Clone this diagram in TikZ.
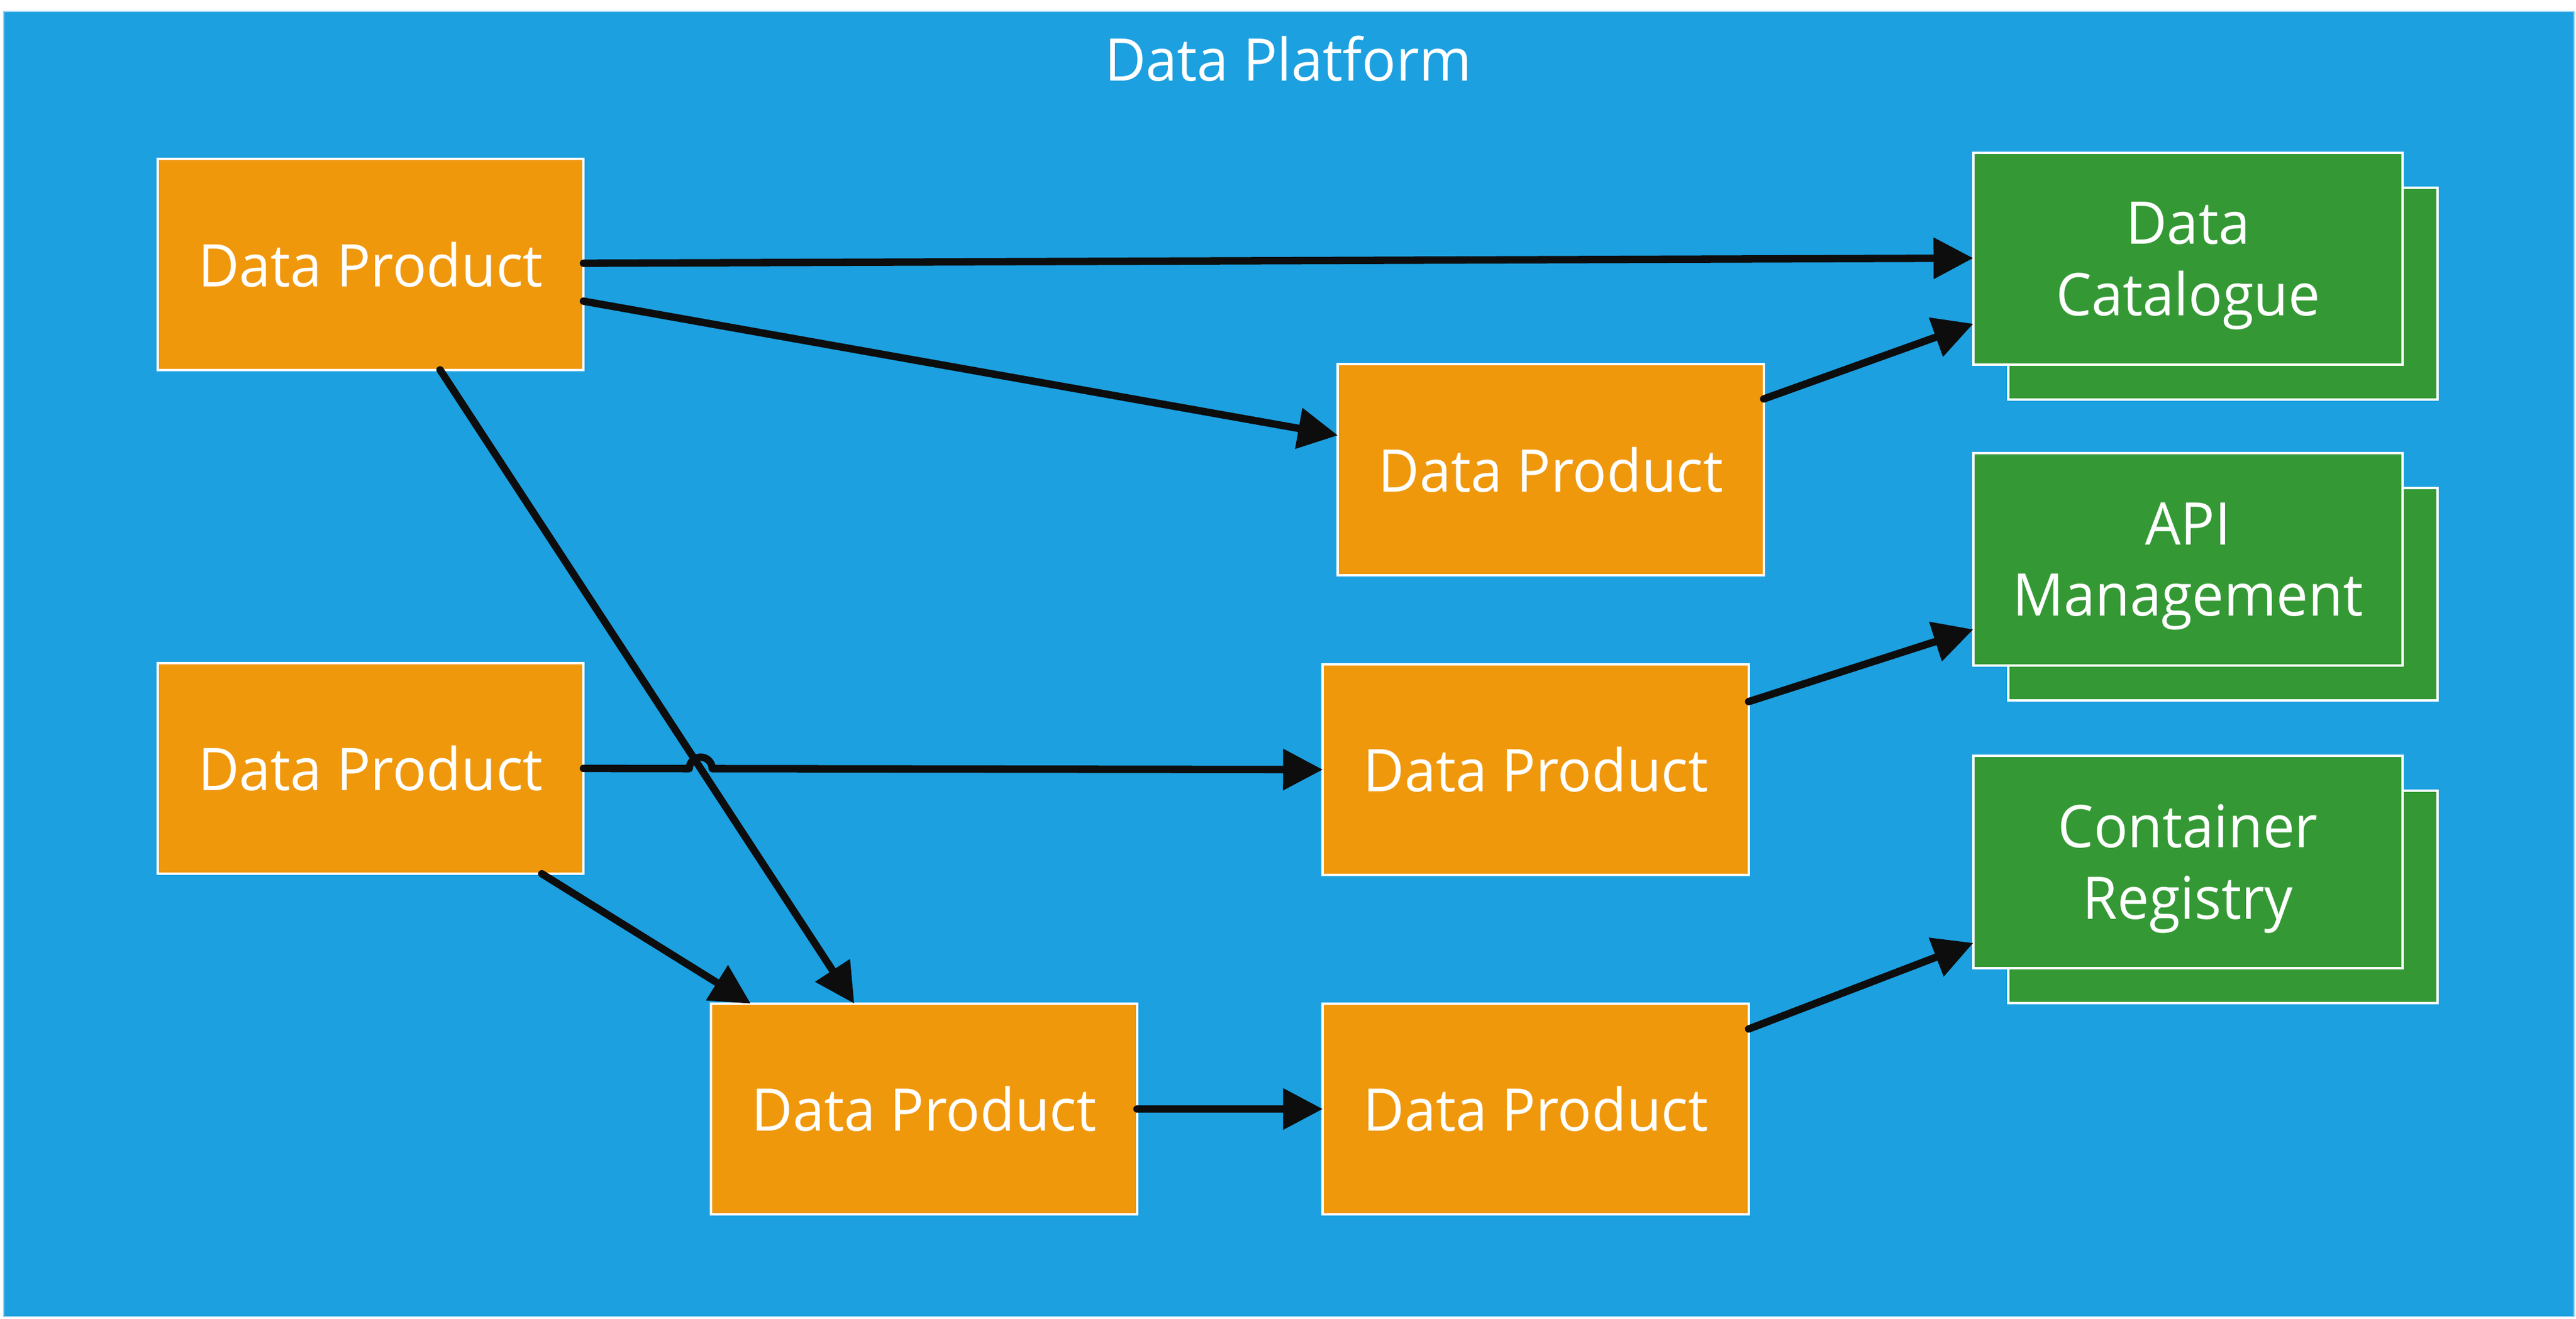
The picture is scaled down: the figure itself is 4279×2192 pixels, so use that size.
\documentclass[tikz,border=0pt]{standalone}
\usepackage{fontspec}
\setmainfont{Open Sans}[FakeStretch=0.96]
\usetikzlibrary{arrows.meta,calc,positioning}
\definecolor{platblue}{HTML}{1CA0E0}
\definecolor{platedge}{HTML}{9FD6F2}
\definecolor{prodorange}{HTML}{F0980C}
\definecolor{svcgreen}{HTML}{349934}
\definecolor{arrowblack}{HTML}{0D0D0D}
\tikzset{
  prodbox/.style={draw=white, line width=0.04cm, fill=prodorange, text=white,
    minimum width=7.07cm, minimum height=3.5cm, inner sep=0pt, outer sep=0pt,
    font=\fontsize{27.8}{33.8}\selectfont},
  svcbox/.style={draw=white, line width=0.04cm, fill=svcgreen, text=white,
    minimum width=7.13cm, minimum height=3.52cm, inner sep=0pt, outer sep=0pt,
    align=center, text depth=0pt, font=\fontsize{27.8}{33.8}\selectfont},
  flow/.style={draw=arrowblack, line width=0.123cm, line cap=round, line join=round,
    -{Triangle[length=0.66cm, width=0.66cm]}},
  titletext/.style={text=white, inner sep=0pt, font=\fontsize{27.8}{33.8}\selectfont}
}
\begin{document}
\begin{tikzpicture}[x=0.01cm, y=-0.01cm]
\useasboundingbox (0,0) rectangle (4279,2192);
\fill[white] (0,0) rectangle (4279,2192);
\path[fill=platblue, draw=platedge, line width=0.02cm] (6,19) rectangle (4276,2188);
\node[titletext, anchor=base] (title) at (2140,135) {Data Platform};

% data products
\node[prodbox] (dp1) at (615.5,439.5) {Data Product};
\node[prodbox] (dp2) at (2576,780.5) {Data Product};
\node[prodbox] (dp3) at (615.5,1277) {Data Product};
\node[prodbox] (dp4) at (2551,1279) {Data Product};
\node[prodbox] (dp5) at (1535,1843) {Data Product};
\node[prodbox] (dp6) at (2551,1843) {Data Product};

% services (stacked)
\node[svcbox] (catb) at (3692.5,488) {};
\node[svcbox] (cat) at (3634.5,430) {Data\\Catalogue};
\node[svcbox] (apib) at (3692.5,987.5) {};
\node[svcbox] (api) at (3634.5,929.5) {API\\Management};
\node[svcbox] (regb) at (3692.5,1490.5) {};
\node[svcbox] (reg) at (3634.5,1432.5) {Container\\Registry};

% connector end points
\coordinate (a3s) at ($(dp1.south)+(115.5,0)$);
\coordinate (a3e) at ($(dp5.north)+(-116,0)$);
\coordinate (hopx) at (intersection of a3s--a3e and dp3.east--dp4.west);

% connectors
\draw[flow] ($(dp1.east)+(0,-2)$) -- ($(cat.west)+(0,-1)$);
\draw[flow] ($(dp1.east)+(0,61)$) -- ($(dp2.west)+(0,-57)$);
\draw[flow] (a3s) -- (a3e);
\draw[flow] ($(dp2.east)+(0,-117.5)$) -- ($(cat.west)+(0,108)$);
\draw[flow] (dp3.east) -- ($(hopx)+(-19,0)$) arc[start angle=180, end angle=0, radius=0.19cm] -- (dp4.west);
\draw[flow] ($(dp3.south)+(284.5,0)$) -- ($(dp5.north)+(-288,0)$);
\draw[flow] ($(dp4.east)+(0,-113)$) -- ($(api.west)+(0,116.5)$);
\draw[flow] (dp5.east) -- (dp6.west);
\draw[flow] ($(dp6.east)+(0,-133)$) -- ($(reg.west)+(0,134.5)$);
\end{tikzpicture}
\end{document}
